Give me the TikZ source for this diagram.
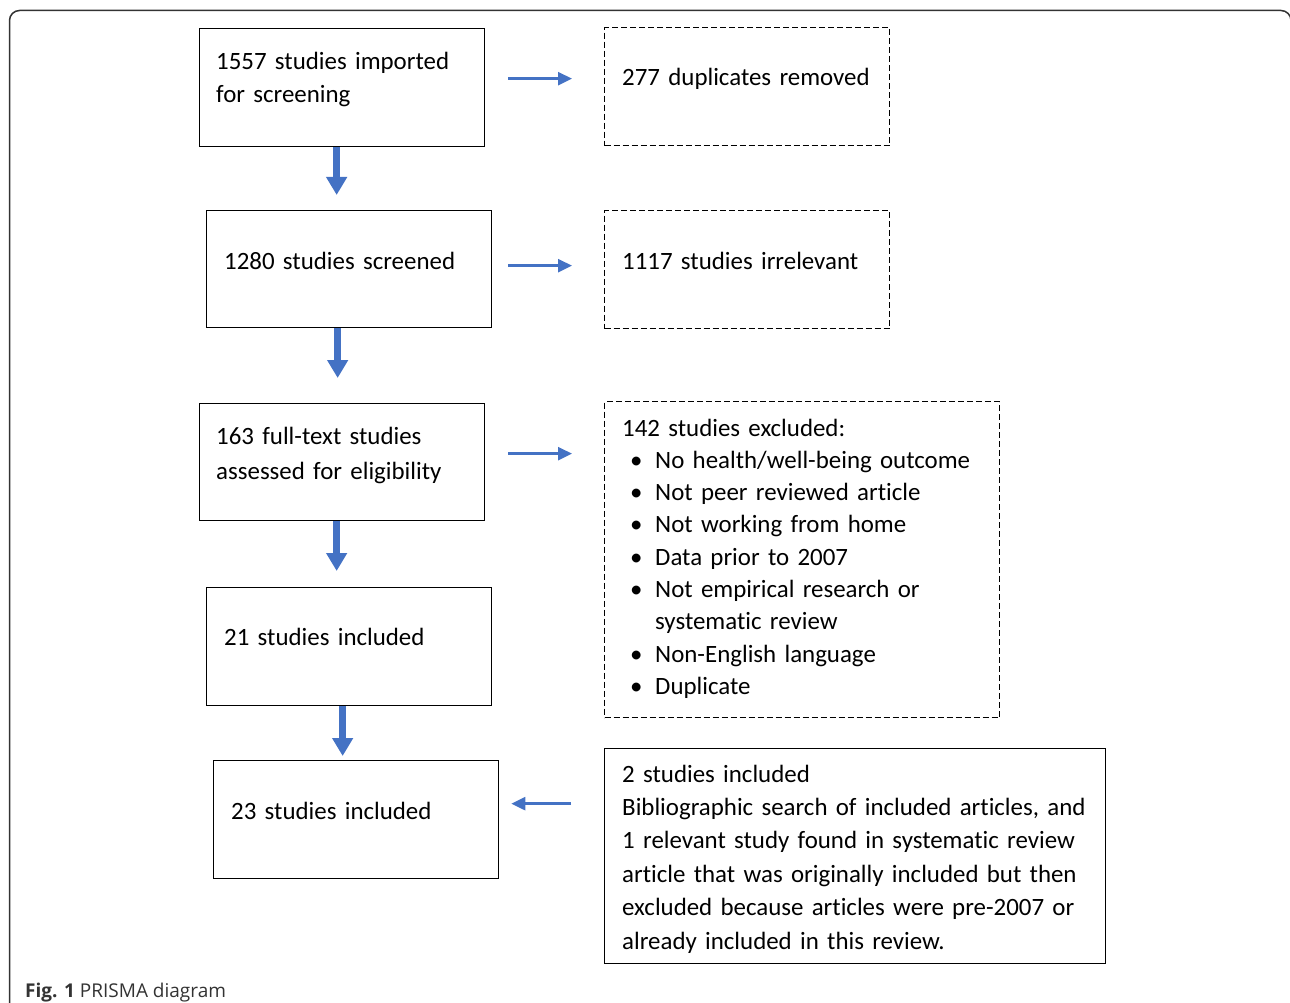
\documentclass[tikz,border=0pt]{standalone}
\usepackage{fontspec}
\setmainfont{Carlito}[Ligatures=NoCommon]
\newfontfamily\capfont{Open Sans}
\usetikzlibrary{arrows.meta}
\definecolor{arrowblue}{HTML}{4472C4}
\definecolor{framegray}{HTML}{333333}
\newcommand\bul{\makebox[33pt][l]{\hspace*{14pt}\makebox[0pt]{•}}}
\begin{document}
\begin{tikzpicture}[x=1pt,y=-1pt,
  box/.style={draw=black, line width=1.3pt, inner sep=0pt, anchor=north west},
  dbox/.style={box, dash pattern=on 6pt off 3pt},
  txt/.style={anchor=base west, inner sep=0pt, align=left, text width=#1,
              font=\fontsize{24.9}{33}\selectfont},
  txt/.default=480pt,
  bigarrow/.style={draw=arrowblue, line width=7pt, -{Triangle[width=20pt,length=18pt]}},
  smallarrow/.style={draw=arrowblue, line width=2.5pt, -{Triangle[width=13pt,length=14pt]}}
]
\useasboundingbox (0,0) rectangle (1290,1003);
\begin{scope}
  \clip (0,0) rectangle (1290,1003);
  \draw[framegray, line width=1.5pt, rounded corners=10pt]
    (9.5,1040) -- (9.5,10.5) -- (1291,10.5) -- (1291,1040);
\end{scope}

% left column boxes
\node[box, minimum width=285pt, minimum height=118pt] (b1) at (199,28) {};
\node[box, minimum width=285pt, minimum height=117pt] (b2) at (206,210) {};
\node[box, minimum width=285pt, minimum height=117pt] (b3) at (199,403) {};
\node[box, minimum width=285pt, minimum height=118pt] (b4) at (206,587) {};
\node[box, minimum width=285pt, minimum height=118pt] (b5) at (213,760) {};

% right column boxes
\node[dbox, minimum width=285pt, minimum height=118pt] (r1) at (604,27) {};
\node[dbox, minimum width=285pt, minimum height=118pt] (r2) at (604,210) {};
\node[dbox, minimum width=395pt, minimum height=316pt] (r3) at (604,401) {};
\node[box, minimum width=501pt, minimum height=215pt] (r4) at (604,748) {};

% texts
\node[txt] (t1) at (216,70) {1557 studies imported\\for screening};
\node[txt] (t2) at (224,269) {1280 studies screened};
\node[txt, font=\fontsize{24.9}{35}\selectfont] (t3) at (216,444) {163 full-text studies\\assessed for eligibility};
\node[txt] (t4) at (224,645) {21 studies included};
\node[txt] (t5) at (231,819) {23 studies included};

\node[txt] (s1) at (622,86) {277 duplicates removed};
\node[txt] (s2) at (622,269) {1117 studies irrelevant};
\node[txt, font=\fontsize{24.9}{32.3}\selectfont] (s3) at (622,436)
  {142 studies excluded:\\
   \bul No health/well-being outcome\\
   \bul Not peer reviewed article\\
   \bul Not working from home\\
   \bul Data prior to 2007\\
   \bul Not empirical research or\\
   \hspace*{33pt}systematic review\\
   \bul Non-English language\\
   \bul Duplicate};
\node[txt, font=\fontsize{24.9}{33.4}\selectfont] (s4) at (622,782)
  {2 studies included\\
   Bibliographic search of included articles, and\\
   1 relevant study found in systematic review\\
   article that was originally included but then\\
   excluded because articles were pre-2007 or\\
   already included in this review.};

% vertical arrows
\draw[bigarrow, shorten >=15pt] ([xshift=-5.5pt]b1.south) -- ([xshift=-5.5pt]b1.south |- b2.north);
\draw[bigarrow, shorten >=25pt] ([xshift=-11.5pt]b2.south) -- ([xshift=-11.5pt]b2.south |- b3.north);
\draw[bigarrow, shorten >=16pt] ([xshift=-5.5pt]b3.south) -- ([xshift=-5.5pt]b3.south |- b4.north);
\draw[bigarrow, shorten >=4pt] ([xshift=-6.5pt]b4.south) -- ([xshift=-6.5pt]b4.south |- b5.north);

% horizontal arrows
\draw[smallarrow, shorten <=23pt, shorten >=32pt] ([yshift=9pt]b1.east) -- ([yshift=9pt]b1.east -| r1.west);
\draw[smallarrow, shorten <=16pt, shorten >=32pt] ([yshift=3.5pt]b2.east) -- ([yshift=3.5pt]b2.east -| r2.west);
\draw[smallarrow, shorten <=23pt, shorten >=32pt] ([yshift=8.5pt]b3.east) -- ([yshift=8.5pt]b3.east -| r3.west);
\draw[smallarrow, shorten <=33pt, shorten >=12pt] ([yshift=52.5pt]r4.west) -- ([yshift=52.5pt]r4.west -| b5.east);

% caption
\node[anchor=base west, inner sep=0pt, font=\capfont\fontsize{19}{22}\selectfont, text=framegray] (cap) at (25,997)
  {\textbf{Fig. 1} PRISMA diagram};
\end{tikzpicture}
\end{document}
